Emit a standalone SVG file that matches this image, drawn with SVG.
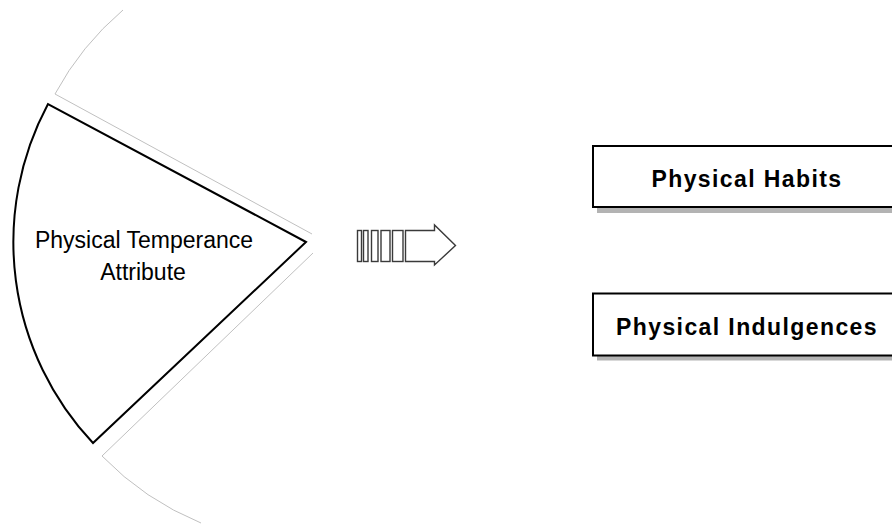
<svg xmlns="http://www.w3.org/2000/svg" width="892" height="524" viewBox="0 0 892 524">
<style>
.sector{fill:#ffffff;stroke:#000000;stroke-width:2;stroke-linejoin:miter}
.ghost{fill:none;stroke:#c0c0c0;stroke-width:1}
.lbl{font-family:"Liberation Sans",Arial,sans-serif;font-size:23px;fill:#000000;text-anchor:middle}
.box{fill:#ffffff;stroke:#000000;stroke-width:2}
.shadow{fill:#b3b3b3;stroke:none}
.blbl{font-family:"Liberation Sans",Arial,sans-serif;font-size:23px;font-weight:bold;fill:#000000;text-anchor:middle;letter-spacing:1.4px}
.arr{fill:#ffffff;stroke:#3a3a3a;stroke-width:1.4}
</style>
<rect width="892" height="524" fill="#ffffff"/>
<g id="ghost-upper">
<path class="ghost" d="M312,234 L55,94 A293,293 0 0 1 123,10"/>
</g>
<g id="ghost-lower">
<path class="ghost" d="M313,253 L102,456 A293,293 0 0 0 201,523"/>
</g>
<g id="physical-temperance-attribute">
<path class="sector" d="M306,242 L48,104 A293,293 0 0 0 93,443 Z"/>
<text class="lbl" x="144" y="248">Physical Temperance</text>
<text class="lbl" x="143" y="280">Attribute</text>
</g>
<g id="connectors">
<g id="striped-arrow">
<rect class="arr" x="357.5" y="230.5" width="4" height="31"/>
<rect class="arr" x="363.5" y="230.5" width="4.5" height="31"/>
<rect class="arr" x="371.5" y="230.5" width="6.5" height="31"/>
<rect class="arr" x="381" y="230.5" width="9" height="31"/>
<rect class="arr" x="392.5" y="230.5" width="10.5" height="31"/>
<path class="arr" d="M405.5,230.5 H434.5 V225 L455.5,245.5 L434.5,265 V261.5 H405.5 Z"/>
</g>
</g>
<g id="physical-habits">
<rect class="shadow" x="597" y="151" width="310" height="62"/>
<rect class="box" x="593" y="146" width="310" height="61"/>
<text class="blbl" x="747" y="187">Physical Habits</text>
</g>
<g id="physical-indulgences">
<rect class="shadow" x="597" y="298.5" width="310" height="62"/>
<rect class="box" x="593" y="293.5" width="310" height="62"/>
<text class="blbl" x="747" y="335">Physical Indulgences</text>
</g>
</svg>
